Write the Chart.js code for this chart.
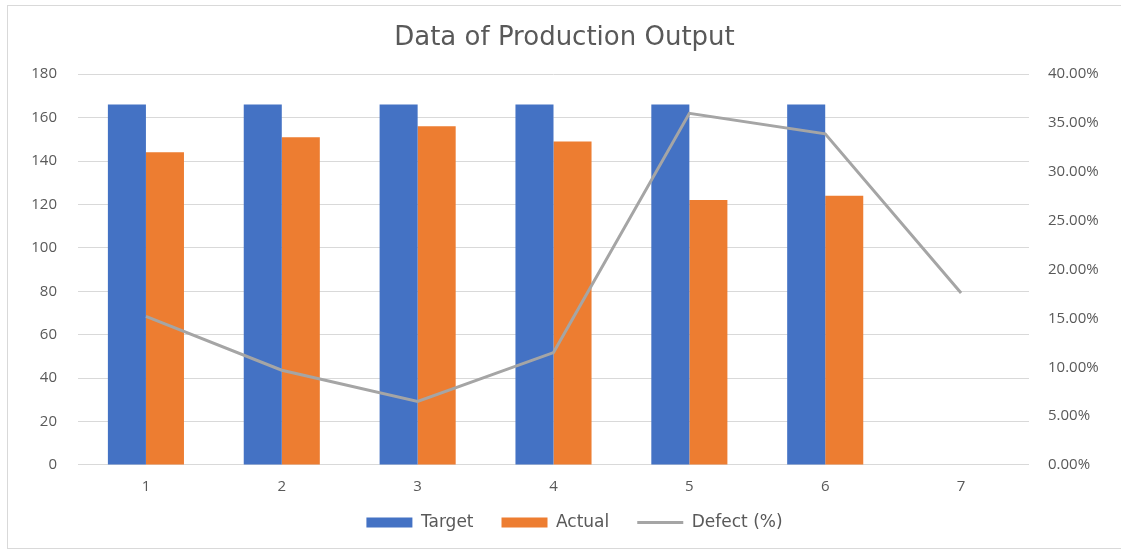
<!DOCTYPE html>
<html>
<head>
<meta charset="utf-8">
<script src="https://cdn.jsdelivr.net/npm/chart.js@4/dist/chart.umd.min.js"></script>
<style>
  html, body { margin: 0; padding: 0; background: #fff; overflow: hidden; }
  #frame { position: absolute; left: 7px; top: 5px; width: 1120px; height: 542px; border: 1px solid #d9d9d9; }
  #wrap { position: absolute; left: 8px; top: 6px; width: 1113px; height: 544px; }
</style>
</head>
<body>
<div id="frame"></div>
<div id="wrap"><canvas id="grafica"></canvas></div>
<script>
// categorias del eje X
const categorias = ["1", "2", "3", "4", "5", "6", "7"];
// valores de las series
const objetivo = [166, 166, 166, 166, 166, 166, null];
const real = [144, 151, 156, 149, 122, 124, null];
const defecto = [15.2, 9.7, 6.5, 11.5, 36.0, 33.9, 17.6]; // en %

const gris = '#595959';
const fuente = "'Open Sans', 'Liberation Sans', sans-serif";
const fuenteTitulo = "'DejaVu Sans', sans-serif";

// mueve un poco la leyenda (el padding de las etiquetas tambien separa en vertical)
const moverLeyenda = {
  id: 'moverLeyenda',
  afterLayout(chart) {
    chart.legend.top -= 9;
    chart.legend.bottom -= 9;
    chart.legend.left += 10;
    chart.legend.right += 10;
  }
};

new Chart(document.getElementById('grafica'), {
  type: 'bar',
  data: {
    labels: categorias,
    datasets: [
      {
        label: 'Target',
        data: objetivo,
        backgroundColor: '#4472C4',
        categoryPercentage: 0.56,
        barPercentage: 1.0,
        pointStyle: 'rect',
        yAxisID: 'y',
        order: 2
      },
      {
        label: 'Actual',
        data: real,
        backgroundColor: '#ED7D31',
        categoryPercentage: 0.56,
        barPercentage: 1.0,
        pointStyle: 'rect',
        yAxisID: 'y',
        order: 2
      },
      {
        type: 'line',
        label: 'Defect (%)',
        data: defecto,
        borderColor: '#A5A5A5',
        backgroundColor: '#A5A5A5',
        borderWidth: 3,
        pointRadius: 0,
        pointStyle: 'line',
        tension: 0,
        yAxisID: 'y1',
        order: 1
      }
    ]
  },
  plugins: [moverLeyenda],
  options: {
    responsive: true,
    maintainAspectRatio: false,
    animation: false,
    layout: { padding: 0 },
    plugins: {
      title: {
        display: true,
        text: 'Data of Production Output',
        color: gris,
        font: { family: fuenteTitulo, size: 26, weight: 'normal', lineHeight: 1.2 },
        padding: { top: 17, bottom: 20 }
      },
      legend: {
        position: 'bottom',
        labels: {
          color: gris,
          font: { family: fuenteTitulo, size: 17 },
          usePointStyle: true,
          pointStyleWidth: 46,
          boxHeight: 10,
          padding: 28,
          sort: function(a, b) { return a.datasetIndex - b.datasetIndex; }
        }
      },
      tooltip: { enabled: false }
    },
    scales: {
      x: {
        grid: { display: false, drawTicks: true, tickLength: 14 },
        border: { display: false },
        ticks: { color: gris, font: { family: fuente, size: 15, lineHeight: 1.07 }, padding: 0 }
      },
      y: {
        position: 'left',
        min: 0,
        max: 180,
        ticks: { stepSize: 20, color: gris, font: { family: fuente, size: 15 }, padding: 21 },
        grid: { color: '#D9D9D9', drawTicks: false },
        border: { display: false },
        afterFit: function(s) { s.width = 70; }
      },
      y1: {
        position: 'right',
        min: 0,
        max: 40,
        ticks: {
          stepSize: 5,
          color: gris,
          font: { family: fuente, size: 15 },
          padding: 19,
          callback: function(v) { return v.toFixed(2) + '%'; }
        },
        grid: { display: false, drawTicks: false },
        border: { display: false },
        afterFit: function(s) { s.width = 92; }
      }
    }
  }
});
</script>
</body>
</html>
